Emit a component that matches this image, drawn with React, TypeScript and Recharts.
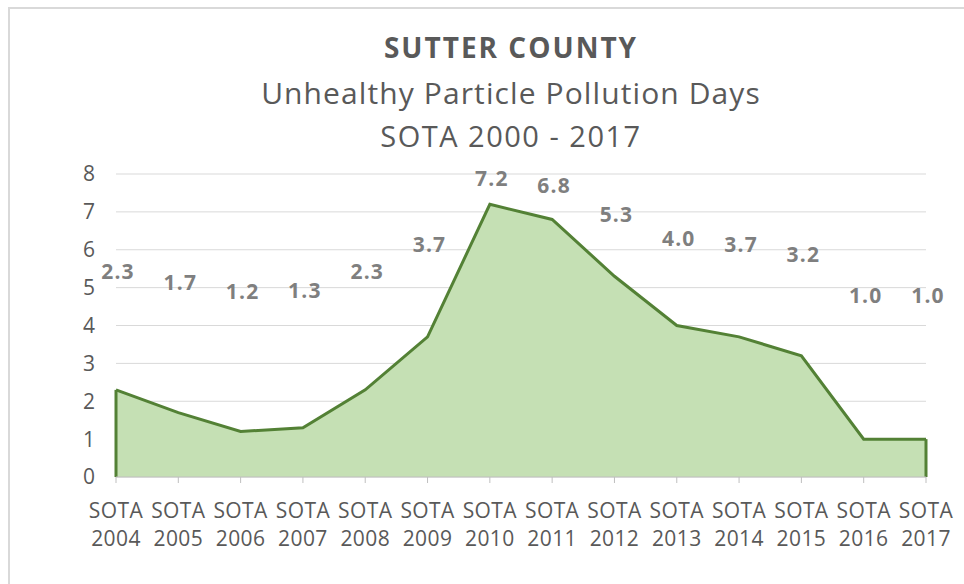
import React from 'react';
import {
    AreaChart,
    Area,
    XAxis,
    YAxis,
    CartesianGrid,
    LabelList,
    ReferenceLine
} from 'recharts';

const categories = ['2004', '2005', '2006', '2007', '2008', '2009', '2010', '2011', '2012', '2013', '2014', '2015', '2016', '2017'];
const values = [2.3, 1.7, 1.2, 1.3, 2.3, 3.7, 7.2, 6.8, 5.3, 4.0, 3.7, 3.2, 1.0, 1.0];
const yTicks = [0, 1, 2, 3, 4, 5, 6, 7, 8];

const titleLines = ['SUTTER COUNTY', 'Unhealthy Particle Pollution Days', 'SOTA 2000 - 2017'];

const W = 964;
const H = 584;
const PLOT_TOP = 174;
const PLOT_BOTTOM = 477;
const Y_MAX = 8;
const UNIT = (PLOT_BOTTOM - PLOT_TOP) / Y_MAX;

const FONT = '"Open Sans", Lato, sans-serif';
const DARK = '#595959';
const LINE = '#538135';
const FILL = '#C5E0B4';

const data = categories.map((year, i) => ({ year, value: values[i] }));

const YearTick = (props: any) => {
    const { x, y, payload } = props;
    return (
        <g>
            <text x={x} y={y + 35} textAnchor="middle" fontFamily={FONT} fontSize={21} letterSpacing={0.4} fill={DARK}>SOTA</text>
            <text x={x} y={y + 63} textAnchor="middle" fontFamily={FONT} fontSize={21} letterSpacing={0.4} fill={DARK}>{payload.value}</text>
        </g>
    );
};

// excel puts area labels up above the midpoint of the column, not on the point
const ValueLabel = (props: any) => {
    const { x, y, value } = props;
    const ly = (PLOT_BOTTOM + y) / 2 - 4.3 * UNIT;
    return (
        <text x={x + 2} y={ly} textAnchor="middle" dominantBaseline="central"
            fontFamily={FONT} fontSize={21} fontWeight={700} letterSpacing={1.2} fill="#7f7f7f">
            {value.toFixed(1)}
        </text>
    );
};

const App: React.FC = () => {
    const first = data[0];
    const last = data[data.length - 1];
    return (
        <div style={{ position: 'absolute', left: 0, top: 0, width: W, height: H, background: '#fff', overflow: 'hidden' }}>
            <div style={{ position: 'absolute', left: 8, top: 7, width: W, height: H, borderLeft: '2px solid #d9d9d9', borderTop: '2px solid #d9d9d9' }} />
            <AreaChart width={W} height={H} data={data} margin={{ top: PLOT_TOP, right: 38, left: 0, bottom: 47 }}>
                <CartesianGrid vertical={false} stroke="#d9d9d9" />
                <XAxis
                    dataKey="year"
                    height={60}
                    stroke="#bfbfbf"
                    tickSize={6}
                    tickMargin={0}
                    interval={0}
                    tick={<YearTick />}
                />
                <YAxis
                    width={116}
                    domain={[0, Y_MAX]}
                    ticks={yTicks}
                    axisLine={false}
                    tickLine={false}
                    tickSize={0}
                    tickMargin={21}
                    tick={{ fontFamily: FONT, fontSize: 21, fill: DARK }}
                />
                <Area
                    type="linear"
                    dataKey="value"
                    stroke={LINE}
                    strokeWidth={3}
                    fill={FILL}
                    fillOpacity={1}
                    isAnimationActive={false}
                >
                    <LabelList dataKey="value" content={<ValueLabel />} />
                </Area>
                <ReferenceLine segment={[{ x: first.year, y: 0 }, { x: first.year, y: first.value }]} stroke={LINE} strokeWidth={3} />
                <ReferenceLine segment={[{ x: last.year, y: 0 }, { x: last.year, y: last.value }]} stroke={LINE} strokeWidth={3} />
            </AreaChart>
            <svg width={W} height={H} style={{ position: 'absolute', left: 0, top: 0, pointerEvents: 'none' }}>
                <text x={511} y={58} textAnchor="middle" fontFamily={FONT} fontSize={28} fontWeight={700} letterSpacing={2} fill={DARK}>{titleLines[0]}</text>
                <text x={511} y={104} textAnchor="middle" fontFamily={FONT} fontSize={30} letterSpacing={1.1} fill={DARK}>{titleLines[1]}</text>
                <text x={511} y={147} textAnchor="middle" fontFamily={FONT} fontSize={29} letterSpacing={1.5} fill={DARK}>{titleLines[2]}</text>
            </svg>
        </div>
    );
};

export default App;
